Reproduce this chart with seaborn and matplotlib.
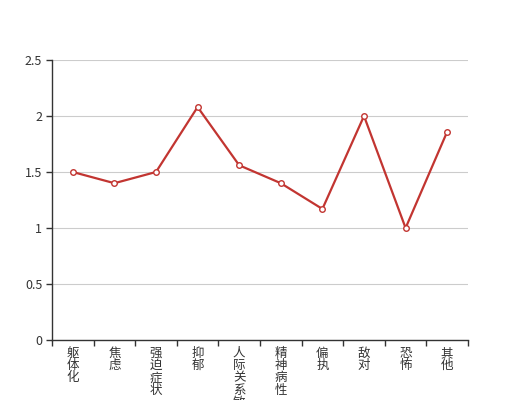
import matplotlib
matplotlib.use("Agg")
import matplotlib.pyplot as plt
import seaborn as sns
import pandas as pd
import numpy as np

categories = ["躯体化", "焦虑", "强迫症状", "抑郁", "人际关系敏感", "精神病性", "偏执", "敌对", "恐怖", "其他"]
values = [1.5, 1.4, 1.5, 2.08, 1.56, 1.4, 1.17, 2.0, 1.0, 1.86]

sns.set_theme(style="white")
plt.rcParams['font.family'] = ['Noto Sans CJK SC', 'DejaVu Sans']

df = pd.DataFrame({"cat": categories, "val": values})

fig = plt.figure(figsize=(5.2, 4.0), dpi=100)
ax = fig.add_axes([52/520, 60/400, 416/520, 280/400])

sns.lineplot(data=df, x="cat", y="val", ax=ax, color="#c23531", linewidth=1.6,
             marker="o", markersize=4, markerfacecolor="white",
             markeredgecolor="#c23531", markeredgewidth=1.0, sort=False)

ax.set_xlim(-0.5, len(categories) - 0.5)
ax.set_ylim(0, 2.5)
ax.set_yticks([0, 0.5, 1, 1.5, 2, 2.5])
ax.set_yticklabels(["0", "0.5", "1", "1.5", "2", "2.5"])
ax.yaxis.grid(True, color="#cccccc", linewidth=0.8)
ax.set_axisbelow(True)

ax.set_xticks(range(len(categories)))
ax.set_xticklabels(["\n".join(c) for c in categories], va="top", linespacing=0.92)
ax.set_xticks(np.arange(-0.5, len(categories), 1), minor=True)
ax.tick_params(axis="x", which="major", length=0, pad=5, labelsize=9, colors="#333333")
ax.tick_params(axis="x", which="minor", length=4, width=1, color="#333333", direction="out", bottom=True)
ax.tick_params(axis="y", length=4, width=1, color="#333333", direction="out", left=True,
               labelsize=9, labelcolor="#333333", pad=3)

for s in ["top", "right"]:
    ax.spines[s].set_visible(False)
for s in ["left", "bottom"]:
    ax.spines[s].set_color("#333333")
    ax.spines[s].set_linewidth(1)

ax.set_xlabel("")
ax.set_ylabel("")

fig.savefig("out.png", dpi=100)
